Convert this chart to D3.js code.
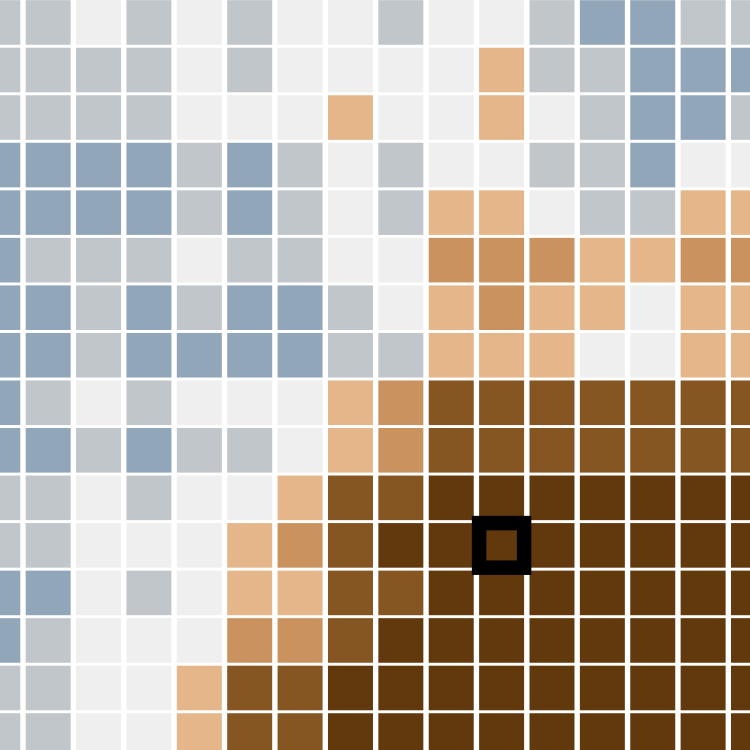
<!DOCTYPE html>
<html>
<head>
<meta charset="utf-8">
<script src="https://cdn.jsdelivr.net/npm/d3@7"></script>
<style>
  html, body { margin: 0; padding: 0; background: #ffffff; overflow: hidden; }
  svg { display: block; }
</style>
</head>
<body>
<script>
// Category levels: -2 blue, -1 grey, 0 light, 1 light tan, 2 tan, 3 brown, 4 dark brown
const levels = [-2, -1, 0, 1, 2, 3, 4];
const levelColors = ["#92a6b9", "#c0c6ca", "#efefef", "#e4b689", "#c9925f", "#855424", "#62380e"];

const columns = d3.range(16);
const rows = d3.range(16);

const row0  = [-1,-1, 0,-1, 0,-1, 0, 0,-1, 0, 0,-1,-2,-2,-1,-1];
const row1  = [-1,-1,-1,-1, 0,-1, 0, 0, 0, 0, 1,-1,-1,-2,-2,-2];
const row2  = [-1,-1,-1,-1, 0, 0, 0, 1, 0, 0, 1, 0,-1,-2,-2,-1];
const row3  = [-2,-2,-2,-2,-1,-2,-1, 0,-1, 0, 0,-1,-1,-2, 0, 0];
const row4  = [-2,-2,-2,-2,-1,-2,-1, 0,-1, 1, 1, 0,-1,-1, 1, 1];
const row5  = [-2,-1,-1,-1, 0,-1,-1, 0, 0, 2, 2, 2, 1, 1, 2, 2];
const row6  = [-2,-2,-1,-2,-1,-2,-2,-1, 0, 1, 2, 1, 1, 0, 1, 1];
const row7  = [-2,-2,-1,-2,-2,-2,-2,-1,-1, 1, 1, 1, 0, 0, 1, 1];
const row8  = [-2,-1, 0,-1, 0, 0, 0, 1, 2, 3, 3, 3, 3, 3, 3, 3];
const row9  = [-2,-2,-1,-2,-1,-1, 0, 1, 2, 3, 3, 3, 3, 3, 3, 3];
const row10 = [-1,-1, 0,-1, 0, 0, 1, 3, 3, 4, 4, 4, 4, 4, 4, 4];
const row11 = [-1,-1, 0, 0, 0, 1, 2, 3, 4, 4, 4, 4, 4, 4, 4, 4];
const row12 = [-2,-2, 0,-1, 0, 1, 1, 3, 3, 4, 4, 4, 4, 4, 4, 4];
const row13 = [-2,-1, 0, 0, 0, 2, 2, 3, 4, 4, 4, 4, 4, 4, 4, 4];
const row14 = [-1,-1, 0, 0, 1, 3, 3, 4, 4, 4, 4, 4, 4, 4, 4, 4];
const row15 = [-1,-1, 0, 0, 1, 3, 3, 4, 4, 4, 4, 4, 4, 4, 4, 4];
const gridValues = [row0,row1,row2,row3,row4,row5,row6,row7,row8,row9,row10,row11,row12,row13,row14,row15];

const highlightRow = 11;
const highlightCol = 10;

const W = 750, H = 750;

const cells = [];
gridValues.forEach((r, ri) => r.forEach((v, ci) => cells.push({ row: ri, col: ci, value: v })));

const x = d3.scaleBand().domain(columns).range([-27.4, 778.7]).paddingInner(0.107).paddingOuter(0.0535);
const y = d3.scaleBand().domain(rows).range([-1.3, 759.3]).paddingInner(0.062).paddingOuter(0.031);
const color = d3.scaleOrdinal().domain(levels).range(levelColors);

const svg = d3.select("body").append("svg").attr("width", W).attr("height", H);
svg.append("rect").attr("width", W).attr("height", H).attr("fill", "#ffffff");

const defs = svg.append("defs");
defs.append("filter").attr("id", "soft")
  .attr("x", "-5%").attr("y", "-5%").attr("width", "110%").attr("height", "110%")
  .append("feGaussianBlur").attr("stdDeviation", 0.6);

const g = svg.append("g").attr("filter", "url(#soft)");
g.selectAll("rect.cell")
  .data(cells)
  .join("rect")
  .attr("class", "cell")
  .attr("x", d => x(d.col))
  .attr("y", d => y(d.row))
  .attr("width", x.bandwidth())
  .attr("height", y.bandwidth())
  .attr("fill", d => color(d.value));

svg.append("rect")
  .attr("x", x(highlightCol))
  .attr("y", y(highlightRow))
  .attr("width", x.bandwidth())
  .attr("height", y.bandwidth())
  .attr("fill", "none")
  .attr("stroke", "#000000")
  .attr("stroke-width", 14.5);
</script>
</body>
</html>
